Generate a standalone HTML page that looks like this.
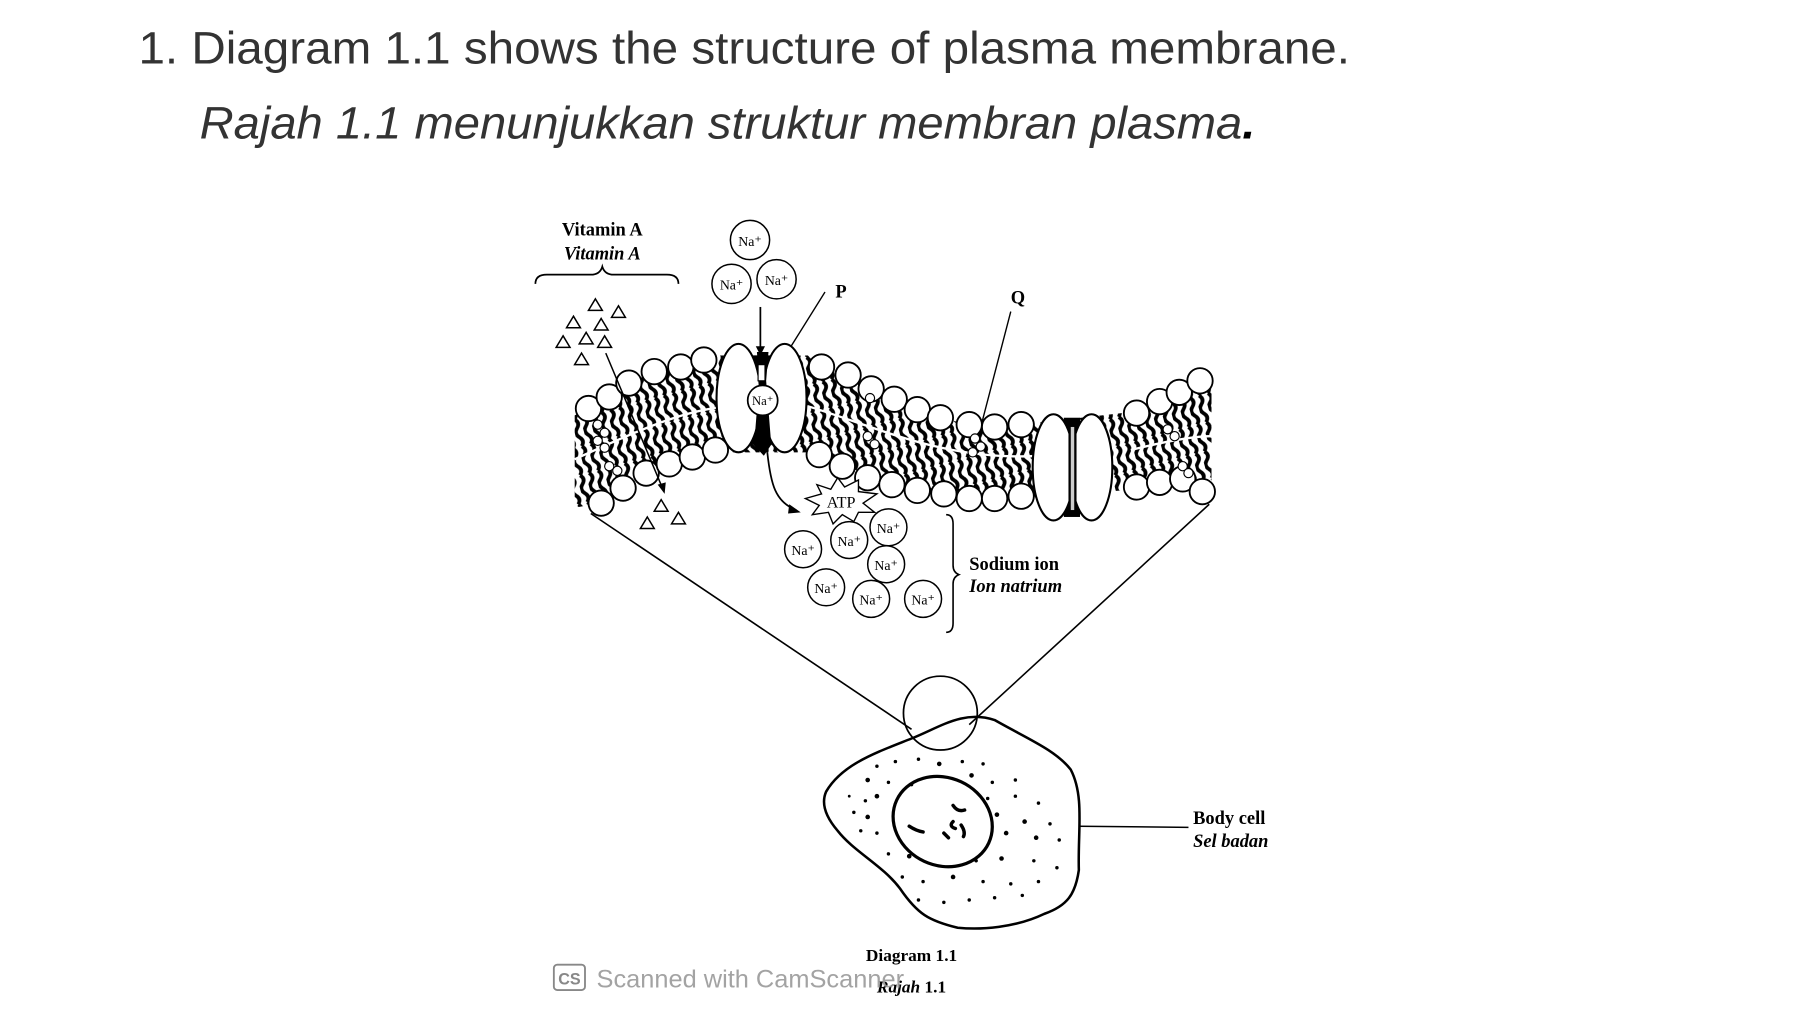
<!DOCTYPE html>
<html><head><meta charset="utf-8"><style>
html,body{margin:0;padding:0;background:#fff;}
svg{display:block;}
</style></head><body>
<svg width="1800" height="1012" viewBox="0 0 1560 877" xmlns="http://www.w3.org/2000/svg">
<defs>
<pattern id="tails" width="8" height="24" patternUnits="userSpaceOnUse" patternTransform="rotate(-15)">
<path d="M3 0 q4 4 0 8 q-4 4 0 8 q4 4 0 8" fill="none" stroke="#000" stroke-width="3.2"/>
</pattern>
<clipPath id="band">
<path d="M498 360 L528 345 L545 332 L567 322 L590 316 L615 308 L700 308 L712 318 L735 325 L755 335 L775 345 L795 355 L815 362 L840 368 L862 370 L885 368 L990 356 L1005 346 L1022 338 L1050 325 L1050 430 L1025 418 L1005 420 L985 424 L885 432 L862 434 L840 432 L818 428 L795 425 L773 420 L752 412 L730 402 L710 392 L620 392 L600 396 L580 402 L560 410 L540 422 L520 436 L498 440 Z"/>
</clipPath>
</defs>
<rect width="1560" height="877" fill="#fff"/>
<text x="120" y="55" font-family="Liberation Sans, sans-serif" font-size="39" fill="#333" textLength="1050" lengthAdjust="spacingAndGlyphs">1. Diagram 1.1 shows the structure of plasma membrane.</text>
<text x="173" y="120" font-family="Liberation Sans, sans-serif" font-size="39" font-style="italic" fill="#333" textLength="915" lengthAdjust="spacingAndGlyphs">Rajah 1.1 menunjukkan struktur membran plasma<tspan font-weight="bold" fill="#000">.</tspan></text>

<g font-family="Liberation Serif, serif" fill="#000">
<text x="522" y="204" font-size="16" font-weight="bold" text-anchor="middle">Vitamin A</text>
<text x="522" y="225" font-size="16" font-weight="bold" font-style="italic" text-anchor="middle">Vitamin A</text>
<path d="M464 246 q0 -8 10 -8 h38 q8 0 10 -7 q2 7 10 7 h46 q10 0 10 8" fill="none" stroke="#000" stroke-width="1.5"/>
<g fill="none" stroke="#000" stroke-width="1.3">
<path d="M516 259 l6 10 h-12z"/><path d="M536 265 l6 10 h-12z"/><path d="M497 274 l6 10 h-12z"/><path d="M521 276 l6 10 h-12z"/><path d="M488 291 l6 10 h-12z"/><path d="M508 288 l6 10 h-12z"/><path d="M524 291 l6 10 h-12z"/><path d="M504 306 l6 10 h-12z"/>
<path d="M573 433 l6 10 h-12z"/><path d="M561 448 l6 10 h-12z"/><path d="M588 444 l6 10 h-12z"/>
</g>
<text x="724" y="258" font-size="16" font-weight="bold">P</text>
<text x="876" y="263" font-size="16" font-weight="bold">Q</text>
<line x1="715" y1="253" x2="685" y2="301" stroke="#000" stroke-width="1.2"/>
<line x1="876" y1="270" x2="850" y2="370" stroke="#000" stroke-width="1.2"/>

<rect x="490" y="300" width="570" height="150" fill="url(#tails)" clip-path="url(#band)"/>
<path d="M498 398 C560 370 600 352 640 352 M700 352 C760 370 820 400 900 395 M980 390 C1000 385 1030 378 1050 378" stroke="#fff" stroke-width="2" fill="none"/>

<g fill="#fff" stroke="#000" stroke-width="1.6">
<circle cx="510" cy="354" r="11"/><circle cx="528" cy="344" r="11"/><circle cx="545" cy="332" r="11"/><circle cx="567" cy="322" r="11"/><circle cx="590" cy="318" r="11"/><circle cx="610" cy="312" r="11"/>
<circle cx="712" cy="318" r="11"/><circle cx="735" cy="325" r="11"/><circle cx="755" cy="337" r="11"/><circle cx="775" cy="346" r="11"/><circle cx="795" cy="355" r="11"/><circle cx="815" cy="362" r="11"/><circle cx="840" cy="368" r="11"/><circle cx="862" cy="370" r="11"/><circle cx="885" cy="368" r="11"/>
<circle cx="985" cy="358" r="11"/><circle cx="1005" cy="348" r="11"/><circle cx="1022" cy="340" r="11"/><circle cx="1040" cy="330" r="11"/>
<circle cx="521" cy="436" r="11"/><circle cx="540" cy="423" r="11"/><circle cx="560" cy="410" r="11"/><circle cx="580" cy="402" r="11"/><circle cx="600" cy="396" r="11"/><circle cx="620" cy="390" r="11"/>
<circle cx="710" cy="394" r="11"/><circle cx="730" cy="404" r="11"/><circle cx="752" cy="414" r="11"/><circle cx="773" cy="420" r="11"/><circle cx="795" cy="425" r="11"/><circle cx="818" cy="428" r="11"/><circle cx="840" cy="432" r="11"/><circle cx="862" cy="432" r="11"/><circle cx="885" cy="430" r="11"/>
<circle cx="985" cy="422" r="11"/><circle cx="1005" cy="418" r="11"/><circle cx="1025" cy="415" r="11"/><circle cx="1042" cy="426" r="11"/>
</g>
<g fill="#fff" stroke="#000" stroke-width="1">
<circle cx="518" cy="368" r="4"/><circle cx="524" cy="375" r="4"/><circle cx="518" cy="382" r="4"/><circle cx="524" cy="388" r="4"/>
<circle cx="528" cy="404" r="4"/><circle cx="535" cy="408" r="4"/>
<circle cx="754" cy="345" r="4"/><circle cx="752" cy="378" r="4"/><circle cx="758" cy="385" r="4"/>
<circle cx="845" cy="380" r="4"/><circle cx="850" cy="387" r="4"/><circle cx="843" cy="392" r="4"/>
<circle cx="1012" cy="372" r="4"/><circle cx="1018" cy="378" r="4"/><circle cx="1025" cy="404" r="4"/><circle cx="1030" cy="410" r="4"/>
</g>
<path d="M648 308 L672 308 L668 340 L672 380 L662 395 L648 380 L652 340 Z" fill="#000"/>
<ellipse cx="640" cy="345" rx="19" ry="47" fill="#fff" stroke="#000" stroke-width="1.8"/>
<ellipse cx="680" cy="345" rx="19" ry="47" fill="#fff" stroke="#000" stroke-width="1.8"/>
<path d="M656 305 L666 305 L664 330 L668 380 L660 392 L654 380 L658 330 Z" fill="#000"/>
<rect x="657" y="316" width="6" height="14" fill="#fff" stroke="#000"/>
<circle cx="661" cy="347" r="13" fill="#fff" stroke="#000" stroke-width="1.5"/>
<text x="661" y="351" font-size="11" text-anchor="middle">Na⁺</text>
<rect x="922" y="362" width="14" height="86" fill="#000"/>
<ellipse cx="913" cy="405" rx="18" ry="46" fill="#fff" stroke="#000" stroke-width="1.8"/>
<ellipse cx="946" cy="405" rx="18" ry="46" fill="#fff" stroke="#000" stroke-width="1.8"/>
<rect x="926" y="366" width="7" height="80" fill="#000"/>
<rect x="928" y="370" width="3" height="72" fill="#ccc"/>

<path d="M659 266 L659 306" stroke="#000" stroke-width="1.5"/><path d="M655 300 L659 308 L663 300Z"/>
<path d="M525 306 L575 425" stroke="#000" stroke-width="1.3"/><path d="M570 420 L576 428 L577 418Z"/>
<path d="M665 392 C668 420 672 435 690 442" stroke="#000" stroke-width="1.5" fill="none"/><path d="M684 437 L694 444 L683 445Z"/>

<g font-size="12" text-anchor="middle">
<g fill="#fff" stroke="#000" stroke-width="1.3">
<circle cx="650" cy="208" r="17"/><circle cx="634" cy="246" r="17"/><circle cx="673" cy="242" r="17"/>
<circle cx="696" cy="476" r="16"/><circle cx="736" cy="468" r="16"/><circle cx="770" cy="457" r="16"/><circle cx="768" cy="489" r="16"/><circle cx="716" cy="509" r="16"/><circle cx="755" cy="519" r="16"/><circle cx="800" cy="519" r="16"/>
</g>
<text x="650" y="213">Na⁺</text><text x="634" y="251">Na⁺</text><text x="673" y="247">Na⁺</text>
<text x="696" y="481">Na⁺</text><text x="736" y="473">Na⁺</text><text x="770" y="462">Na⁺</text><text x="768" y="494">Na⁺</text><text x="716" y="514">Na⁺</text><text x="755" y="524">Na⁺</text><text x="800" y="524">Na⁺</text>
</g>
<path d="M698 432 L712 428 L708 420 L720 424 L726 414 L732 422 L744 416 L744 426 L760 428 L748 436 L758 444 L744 444 L740 452 L730 446 L722 454 L718 444 L704 446 L710 438 Z" fill="#fff" stroke="#000" stroke-width="1.2"/>
<text x="729" y="440" font-size="14" text-anchor="middle">ATP</text>

<path d="M820 446 q6 0 6 8 v36 q0 6 5 8 q-5 2 -5 8 v34 q0 8 -6 8" fill="none" stroke="#000" stroke-width="1.4"/>
<text x="840" y="494" font-size="16" font-weight="bold">Sodium ion</text>
<text x="840" y="513" font-size="16" font-weight="bold" font-style="italic">Ion natrium</text>

<line x1="512" y1="445" x2="790" y2="632" stroke="#000" stroke-width="1.4"/>
<line x1="1048" y1="437" x2="840" y2="628" stroke="#000" stroke-width="1.4"/>
<circle cx="815" cy="618" r="32" fill="none" stroke="#000" stroke-width="1.5"/>

<path d="M716 686 C730 662 760 652 790 640 C815 630 835 615 862 624 C890 640 915 650 928 667 C940 690 934 720 935 754 C932 775 925 785 905 792 C880 804 850 806 830 804 C805 798 795 792 780 770 C765 750 740 738 726 720 C714 706 712 695 716 686 Z" fill="none" stroke="#000" stroke-width="2.2"/>
<ellipse cx="817" cy="712" rx="44" ry="38" transform="rotate(25 817 712)" fill="none" stroke="#000" stroke-width="2.8"/>
<g stroke="#000" stroke-width="3" stroke-linecap="round" fill="none">
<path d="M826 698 q4 6 10 4"/><path d="M788 716 q6 4 12 5"/><path d="M826 712 q-4 4 2 6"/><path d="M833 715 q4 6 2 10"/><path d="M818 722 l4 4"/>
</g>
<g fill="#000">
<circle cx="760" cy="664" r="1.5"/><circle cx="776" cy="660" r="1.5"/><circle cx="796" cy="658" r="1.5"/><circle cx="814" cy="662" r="2"/><circle cx="834" cy="660" r="1.5"/><circle cx="852" cy="662" r="1.5"/>
<circle cx="752" cy="676" r="2"/><circle cx="770" cy="678" r="1.5"/><circle cx="790" cy="680" r="1.5"/><circle cx="842" cy="672" r="2"/><circle cx="860" cy="678" r="1.5"/><circle cx="880" cy="676" r="1.5"/>
<circle cx="736" cy="690" r="1.2"/><circle cx="750" cy="694" r="1.5"/><circle cx="760" cy="690" r="2"/><circle cx="856" cy="692" r="1.5"/><circle cx="880" cy="690" r="1.5"/><circle cx="900" cy="696" r="1.5"/>
<circle cx="740" cy="704" r="1.5"/><circle cx="752" cy="708" r="2"/><circle cx="864" cy="706" r="2"/><circle cx="888" cy="712" r="2"/><circle cx="910" cy="714" r="1.5"/>
<circle cx="746" cy="720" r="1.5"/><circle cx="760" cy="722" r="1.5"/><circle cx="872" cy="722" r="2"/><circle cx="898" cy="726" r="2"/><circle cx="918" cy="728" r="1.5"/>
<circle cx="770" cy="740" r="1.5"/><circle cx="788" cy="742" r="2"/><circle cx="846" cy="746" r="1.5"/><circle cx="868" cy="744" r="2"/><circle cx="896" cy="746" r="1.5"/><circle cx="916" cy="752" r="1.5"/>
<circle cx="782" cy="760" r="1.5"/><circle cx="800" cy="764" r="1.5"/><circle cx="826" cy="760" r="2"/><circle cx="852" cy="764" r="1.5"/><circle cx="876" cy="766" r="1.5"/><circle cx="900" cy="764" r="1.5"/>
<circle cx="796" cy="780" r="1.5"/><circle cx="818" cy="782" r="1.5"/><circle cx="840" cy="780" r="1.5"/><circle cx="862" cy="778" r="1.5"/><circle cx="886" cy="776" r="1.5"/>
</g>
<line x1="935" y1="716" x2="1030" y2="717" stroke="#000" stroke-width="1.3"/>
<text x="1034" y="714" font-size="16" font-weight="bold">Body cell</text>
<text x="1034" y="734" font-size="16" font-weight="bold" font-style="italic">Sel badan</text>
<text x="790" y="833" font-size="15" font-weight="bold" text-anchor="middle">Diagram 1.1</text>
<text x="790" y="860" font-size="15" font-weight="bold" text-anchor="middle"><tspan font-style="italic">Rajah</tspan> 1.1</text>
</g>
<rect x="480" y="836" width="27" height="22" rx="3" fill="#fff" stroke="#888" stroke-width="1.6"/>
<text x="493.5" y="853" font-family="Liberation Sans, sans-serif" font-size="14" font-weight="bold" fill="#888" text-anchor="middle">CS</text>
<text x="517" y="856" font-family="Liberation Sans, sans-serif" font-size="22" fill="#999" fill-opacity="0.9">Scanned with CamScanner</text>
</svg>
</body></html>
